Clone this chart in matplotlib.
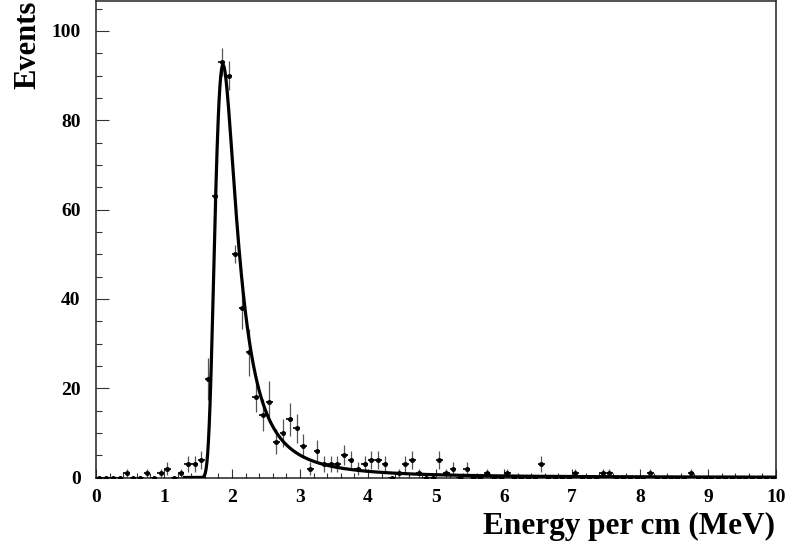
import numpy as np
import matplotlib
matplotlib.use("Agg")
import matplotlib.pyplot as plt

# ---------------- data ----------------
bin_low, bin_high, n_bins = 0.0, 10.0, 100
counts = [
    0, 0, 0, 0, 1, 0, 0, 1, 0, 1,        # 0.0 - 1.0
    2, 0, 1, 3, 3, 4, 22, 63, 93, 90,    # 1.0 - 2.0
    50, 38, 28, 18, 14, 17, 8, 10, 13, 11,  # 2.0 - 3.0
    7, 2, 6, 3, 3, 3, 5, 4, 2, 3,        # 3.0 - 4.0
    4, 4, 3, 0, 1, 3, 4, 1, 0, 0,        # 4.0 - 5.0
    4, 1, 2, 0, 2, 0, 0, 1, 0, 0,        # 5.0 - 6.0
    1, 0, 0, 0, 0, 3, 0, 0, 0, 0,        # 6.0 - 7.0
    1, 0, 0, 0, 1, 1, 0, 0, 0, 0,        # 7.0 - 8.0
    0, 1, 0, 0, 0, 0, 0, 1, 0, 0,        # 8.0 - 9.0
    0, 0, 0, 0, 0, 0, 0, 0, 0, 0,        # 9.0 - 10.0
]
# vertical error half-lengths (peak region), else sqrt(N)
errors_peak = {16: 4.7, 17: 2.0, 18: 3.1, 19: 3.2, 20: 2.0, 21: 4.7, 22: 5.3,
               23: 3.4, 24: 3.5, 25: 4.5}
# Landau fit parameters (ROOT convention: const * Landau((x - mpv)/sigma))
fit_const = 511.5
fit_mpv = 1.890
fit_sigma = 0.100
fit_range = (1.3, 10.0)

x_label = "Energy per cm (MeV)"
y_label = "Events"
x_ticks = [0, 1, 2, 3, 4, 5, 6, 7, 8, 9, 10]
y_ticks = [0, 20, 40, 60, 80, 100]


def landau_std(lam):
    lam = np.atleast_1d(np.asarray(lam, dtype=float))
    t = np.linspace(1e-9, 20.0, 8001)
    w = np.exp(-np.pi * t / 2.0)
    ph = t * np.log(t)
    out = np.empty_like(lam)
    step = 100
    for i in range(0, lam.size, step):
        lc = lam[i:i + step]
        integrand = w * np.cos(ph[None, :] + lc[:, None] * t[None, :])
        out[i:i + step] = np.trapezoid(integrand, t, axis=1) / np.pi
    return out


edges = np.linspace(bin_low, bin_high, n_bins + 1)
centers = 0.5 * (edges[:-1] + edges[1:])
half_w = 0.5 * (edges[1] - edges[0])
y = np.asarray(counts, dtype=float)
yerr = np.sqrt(y)
for k, v in errors_peak.items():
    yerr[k] = v

fig = plt.figure(figsize=(7.89, 5.43), dpi=100)
ax = fig.add_axes([96 / 789, 65.5 / 543, 680 / 789, 476.5 / 543])

serif = ["Liberation Serif", "DejaVu Serif"]

# error bars
ax.vlines(centers, y - yerr, y + yerr, colors="#555555", linewidth=0.9, zorder=2)
ax.hlines(y, centers - half_w, centers + half_w, colors="black", linewidth=1.2, zorder=3)
ax.plot(centers, y, "o", ms=3.6, color="black", zorder=4, markeredgewidth=0)

# fit curve
xf = np.linspace(fit_range[0], fit_range[1], 1500)
yf = fit_const * landau_std((xf - fit_mpv) / fit_sigma)
ax.plot(xf, yf, color="black", linewidth=2.3, zorder=5, clip_on=True)

ax.set_xlim(bin_low, bin_high)
ax.set_ylim(0, 106.7)
ax.set_xticks(x_ticks)
ax.set_yticks(y_ticks)
ax.set_xticks(np.arange(0, 10.01, 0.2), minor=True)
ax.set_yticks(np.arange(0, 106, 5), minor=True)

ax.tick_params(axis="x", which="major", direction="in", length=6.5, width=0.8,
               color="#333333", pad=8)
ax.tick_params(axis="x", which="minor", direction="in", length=3.8, width=0.8,
               color="#333333")
ax.tick_params(axis="y", which="major", direction="in", length=9, width=0.8,
               color="#333333", pad=11)
ax.tick_params(axis="y", which="minor", direction="in", length=4.5, width=0.8,
               color="#333333")
ax.tick_params(top=False, right=False)

for lab in ax.get_xticklabels() + ax.get_yticklabels():
    lab.set_fontfamily(serif)
    lab.set_fontweight("bold")
    lab.set_fontsize(14)

for sp in ax.spines.values():
    sp.set_linewidth(1.1)
    sp.set_color("#222222")

fig.text(775 / 789, 1 - 526 / 543, x_label, ha="right", va="center",
         fontsize=22.5, fontweight="bold", family=serif)
fig.text(27.5 / 789, 1 - 1 / 543, y_label, ha="center", va="top", rotation=90,
         fontsize=22, fontweight="bold", family=serif)

fig.savefig("out.png", dpi=100)
